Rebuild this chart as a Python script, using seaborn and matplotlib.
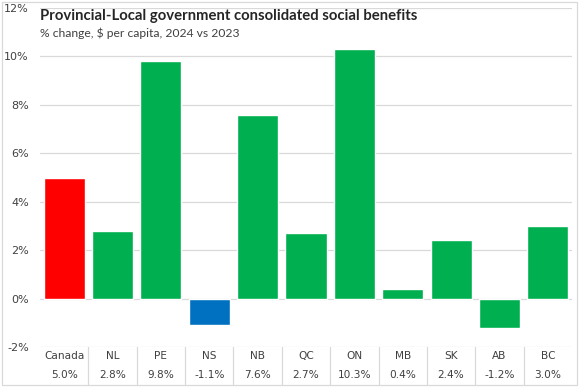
import matplotlib
matplotlib.use("Agg")
import matplotlib.pyplot as plt
import seaborn as sns
import pandas as pd
from matplotlib.patches import Rectangle

categories = ["Canada", "NL", "PE", "NS", "NB", "QC", "ON", "MB", "SK", "AB", "BC"]
values = [5.0, 2.8, 9.8, -1.1, 7.6, 2.7, 10.3, 0.4, 2.4, -1.2, 3.0]
value_labels = ["5.0%", "2.8%", "9.8%", "-1.1%", "7.6%", "2.7%", "10.3%", "0.4%", "2.4%", "-1.2%", "3.0%"]
colors = ["#FF0000", "#00B050", "#00B050", "#0070C0", "#00B050", "#00B050",
          "#00B050", "#00B050", "#00B050", "#00B050", "#00B050"]
yticks = [-2, 0, 2, 4, 6, 8, 10, 12]
ytick_labels = ["-2%", "0%", "2%", "4%", "6%", "8%", "10%", "12%"]
title = "Provincial-Local government consolidated social benefits"
subtitle = "% change, $ per capita, 2024 vs 2023"

sns.set_theme(style="white")
plt.rcParams['font.family'] = ['DejaVu Sans']

W, H = 580, 388
fig = plt.figure(figsize=(W / 100, H / 100), dpi=100)
left, right, top, bottom = 40, 572, 8, 347
ax = fig.add_axes([left / W, 1 - bottom / H, (right - left) / W, (bottom - top) / H])

df = pd.DataFrame({"cat": categories, "val": values})
sns.barplot(data=df, x="cat", y="val", hue="cat", palette=colors, legend=False,
            width=0.85, saturation=1, ax=ax, zorder=3)

ax.set_ylim(-2, 12)
ax.set_xlim(-0.5, len(categories) - 0.5)
ax.set_yticks(yticks)
ax.set_yticklabels(ytick_labels, fontsize=8, color="#404040")
ax.yaxis.grid(True, color="#D9D9D9", linewidth=0.9, zorder=0)
ax.set_xlabel("")
ax.set_ylabel("")
for s in ax.spines.values():
    s.set_visible(False)
ax.tick_params(axis="y", length=0, pad=8)
ax.set_xticks(range(len(categories)))
ax.set_xticklabels([])
ax.tick_params(axis="x", length=0)

# Data table below axis
tr = ax.get_xaxis_transform()
row1 = -(356 - bottom) / (bottom - top)
row2 = -(375 - bottom) / (bottom - top)
sep_bottom = -(385 - bottom) / (bottom - top)
for i, (c, v) in enumerate(zip(categories, value_labels)):
    ax.text(i, row1, c, transform=tr, ha="center", va="center", fontsize=7.6, color="#404040")
    ax.text(i, row2, v, transform=tr, ha="center", va="center", fontsize=7.6, color="#404040")
for i in range(len(categories) - 1):
    ax.plot([i + 0.5, i + 0.5], [0, sep_bottom], transform=tr, color="#D9D9D9",
            linewidth=0.9, clip_on=False)

# Title
fig.text(40 / W, 1 - 16 / H, title, fontsize=10.7, fontweight="bold", family="Lato",
         color="#262626", va="center", ha="left")
fig.text(40 / W, 1 - 33 / H, subtitle, fontsize=8.7, family="Lato",
         color="#404040", va="center", ha="left")

# Outer border
fig.patches.append(Rectangle((2 / W, 1 - 385 / H), 575 / W, 383 / H, transform=fig.transFigure,
                             fill=False, edgecolor="#D9D9D9", linewidth=0.9))

fig.savefig("out.png", dpi=100)
